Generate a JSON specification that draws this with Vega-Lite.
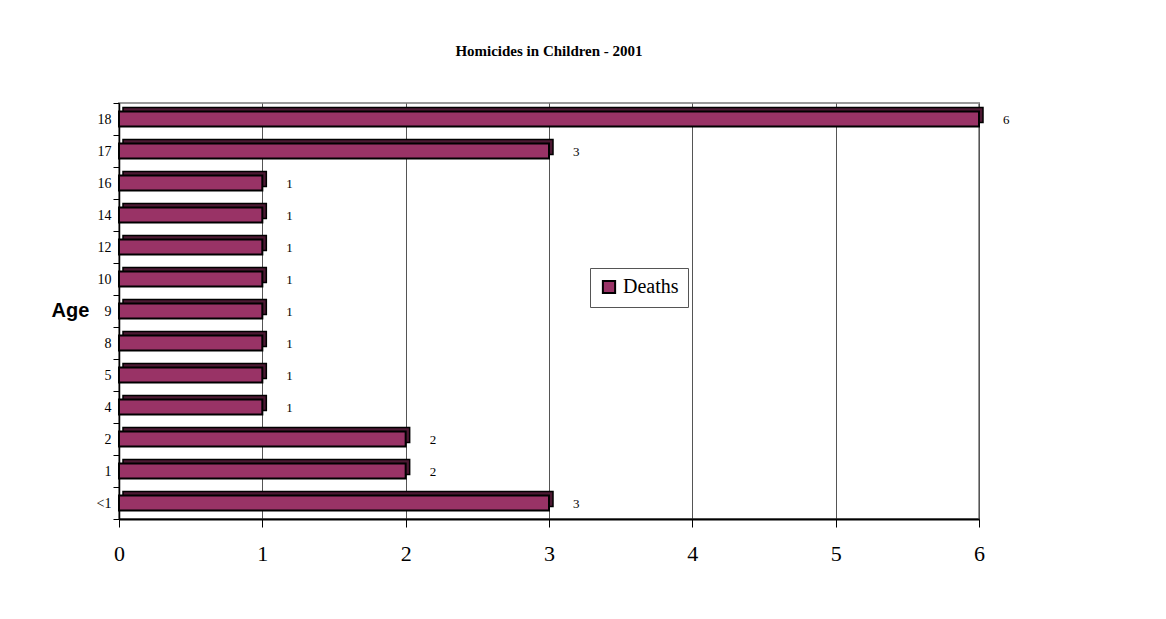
{
  "$schema": "https://vega.github.io/schema/vega-lite/v6.json",
  "width": 860,
  "height": 416,
  "autosize": {"type": "none"},
  "padding": {"left": 119, "top": 103, "right": 187, "bottom": 100},
  "background": "white",
  "title": {"text": "Homicides in Children - 2001", "font": "Liberation Serif", "fontSize": 15, "fontWeight": "bold", "color": "#000", "anchor": "middle", "offset": 37},
  "data": {"values": [
    {"age": "18", "deaths": 6},
    {"age": "17", "deaths": 3},
    {"age": "16", "deaths": 1},
    {"age": "14", "deaths": 1},
    {"age": "12", "deaths": 1},
    {"age": "10", "deaths": 1},
    {"age": "9", "deaths": 1},
    {"age": "8", "deaths": 1},
    {"age": "5", "deaths": 1},
    {"age": "4", "deaths": 1},
    {"age": "2", "deaths": 2},
    {"age": "1", "deaths": 2},
    {"age": "<1", "deaths": 3}
  ]},
  "encoding": {
    "y": {
      "field": "age", "type": "nominal",
      "sort": ["18", "17", "16", "14", "12", "10", "9", "8", "5", "4", "2", "1", "<1"],
      "scale": {"paddingInner": 0, "paddingOuter": 0},
      "axis": {
        "title": "Age", "titleAngle": 0, "titleFont": "Liberation Sans", "titleFontSize": 20, "titleFontWeight": "bold", "titleColor": "#000",
        "titleX": -49, "titleY": 207, "titleAlign": "center", "titleBaseline": "middle",
        "labelFont": "Liberation Serif", "labelFontSize": 14, "labelColor": "#000", "labelPadding": 2,
        "tickSize": 6, "tickColor": "#000", "tickBand": "extent",
        "domainColor": "#000", "domainWidth": 1.5, "grid": false
      }
    },
    "x": {
      "field": "deaths", "type": "quantitative",
      "scale": {"domain": [0, 6], "nice": false},
      "axis": {
        "title": null, "values": [0, 1, 2, 3, 4, 5, 6], "format": "d", "labelFlush": false,
        "labelFont": "Liberation Serif", "labelFontSize": 22, "labelColor": "#000", "labelPadding": 16,
        "tickSize": 8, "tickColor": "#000", "domainColor": "#000", "domainWidth": 2,
        "grid": true, "gridColor": "#555", "gridWidth": 1
      }
    }
  },
  "layer": [
    {"mark": {"type": "bar", "size": 15, "xOffset": 4, "x2Offset": 4, "yOffset": -4, "y2Offset": -4, "fill": "#4d1933", "stroke": "#000", "strokeWidth": 1.5}},
    {
      "mark": {"type": "bar", "size": 15, "stroke": "#000", "strokeWidth": 2, "fillOpacity": 1},
      "encoding": {
        "color": {
          "datum": "Deaths",
          "scale": {"range": ["#993366"]},
          "legend": {
            "title": null, "orient": "none", "legendX": 471, "legendY": 165,
            "fillColor": "white", "strokeColor": "#555", "padding": 9,
            "symbolType": "square", "symbolSize": 150, "symbolStrokeColor": "#000", "symbolStrokeWidth": 2,
            "labelFont": "Liberation Serif", "labelFontSize": 20, "labelColor": "#000", "labelOffset": 4
          }
        }
      }
    },
    {
      "mark": {"type": "text", "align": "left", "baseline": "middle", "dx": 24, "dy": 1, "font": "Liberation Serif", "fontSize": 13, "color": "#000", "fill": "#000"},
      "encoding": {"text": {"field": "deaths", "type": "quantitative"}}
    }
  ],
  "config": {"view": {"stroke": "#999", "strokeWidth": 2}}
}
